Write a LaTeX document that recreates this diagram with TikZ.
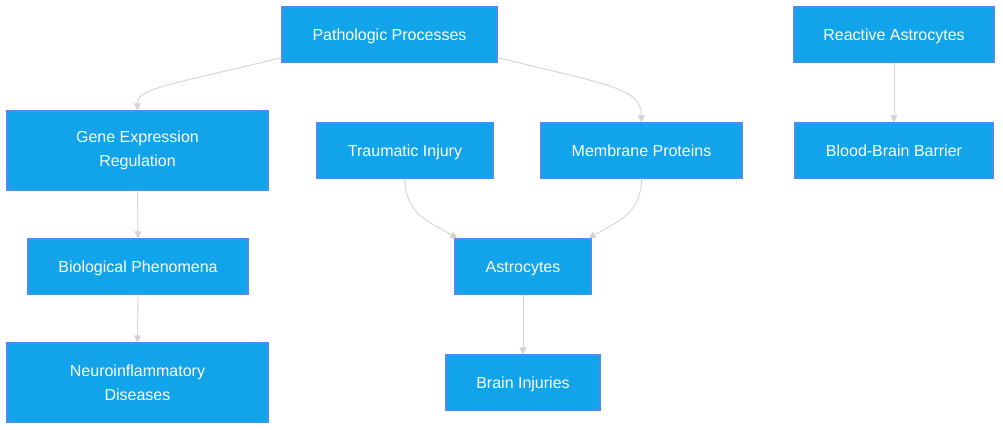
\documentclass[tikz,border=0pt]{standalone}
\usepackage{fontspec}
\setmainfont{Liberation Sans}
\usetikzlibrary{arrows.meta}
\definecolor{boxfill}{HTML}{12A4EB}
\definecolor{boxline}{HTML}{4A8CF2}
\definecolor{edgecol}{HTML}{D3D3D3}
\tikzset{
  box/.style={draw=boxline, line width=1.3pt, fill=boxfill, text=white, font=\fontsize{16}{24}\selectfont, inner sep=0pt},
  one/.style={box, text height=11.5pt, text depth=0pt},
  two/.style={box, align=center}
}
\tikzset{
  edge/.style={draw=edgecol, line width=0.9pt, -{Triangle[length=7pt,width=7pt]}}
}
\begin{document}
\begin{tikzpicture}[x=1pt,y=-1pt]
\useasboundingbox (0,0) rectangle (1003,430);
\node[one, minimum width=215pt, minimum height=55pt] (pp) at (389.5,34.5) {Pathologic Processes};
\node[one, minimum width=200pt, minimum height=55pt] (ra) at (894,34.5) {Reactive Astrocytes};
\node[two, minimum width=261pt, minimum height=79pt] (ge) at (137.5,150.5) {Gene Expression\\Regulation};
\node[one, minimum width=176pt, minimum height=55pt] (ti) at (405,150.5) {Traumatic Injury};
\node[one, minimum width=201pt, minimum height=55pt] (mp) at (641.5,150.5) {Membrane Proteins};
\node[one, minimum width=198pt, minimum height=55pt] (bb) at (894,150.5) {Blood-Brain Barrier};
\node[one, minimum width=220pt, minimum height=55pt] (bp) at (138,266.5) {Biological Phenomena};
\node[one, minimum width=136pt, minimum height=55pt] (as) at (523,266.5) {Astrocytes};
\node[two, minimum width=261pt, minimum height=79pt] (nd) at (137.5,382.5) {Neuroinflammatory\\Diseases};
\node[one, minimum width=154pt, minimum height=55pt] (bi) at (523,382.5) {Brain Injuries};

\draw[edge] ([yshift=5pt]pp.south west) .. controls (170,85) and (137,88) .. (ge.north);
\draw[edge] ([yshift=5pt]pp.south east) .. controls (609,85) and (641,88) .. (mp.north);
\draw[edge] (ra.south) -- (bb.north);
\draw[edge] (ge.south) -- (bp.north);
\draw[edge] (bp.south) -- (nd.north);
\draw[edge] (ti.south) .. controls (405,215) and (430,222) .. ([xshift=3pt]as.north west);
\draw[edge] (mp.south) .. controls (641,215) and (616,222) .. ([xshift=-3pt]as.north east);
\draw[edge] (as.south) -- (bi.north);
\end{tikzpicture}
\end{document}
